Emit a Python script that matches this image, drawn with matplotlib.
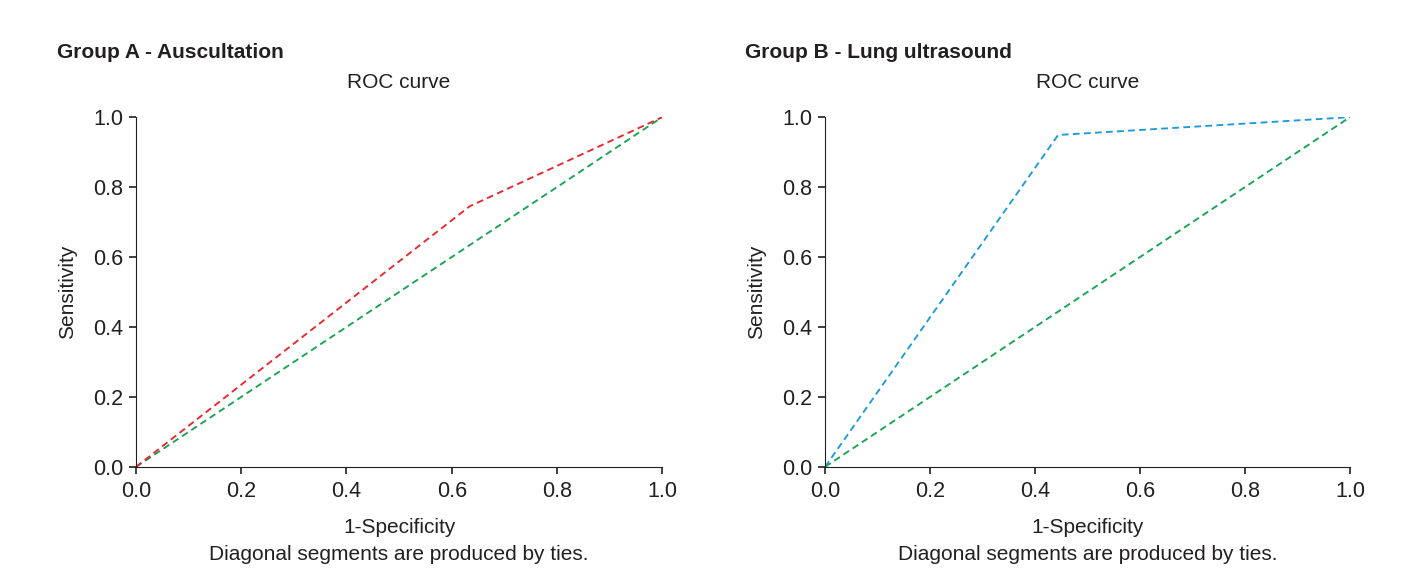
import matplotlib.pyplot as plt

plt.rcParams['font.family'] = ['Liberation Sans', 'DejaVu Sans']

# ROC points (1-specificity, sensitivity)
fpr_a = [0.0, 0.634, 1.0]
tpr_a = [0.0, 0.745, 1.0]
fpr_b = [0.0, 0.444, 1.0]
tpr_b = [0.0, 0.949, 1.0]
ref_line = [0.0, 1.0]
ticks = [0.0, 0.2, 0.4, 0.6, 0.8, 1.0]

titles = ["Group A - Auscultation", "Group B - Lung ultrasound"]
colors = ["#e8262d", "#1b9bd7"]
ref_color = "#16a450"
ink = '#231f20'

fig = plt.figure(figsize=(14.21, 5.8), dpi=100)
ax_a = fig.add_axes([0.0957, 0.195, 0.3703, 0.603])
ax_b = fig.add_axes([0.5806, 0.195, 0.3694, 0.603])

for ax, fx, fy, title, col, tx in [(ax_a, fpr_a, tpr_a, titles[0], colors[0], 0.040),
                                   (ax_b, fpr_b, tpr_b, titles[1], colors[1], 0.524)]:
    ax.plot(ref_line, ref_line, color=ref_color, lw=1.35, dashes=(3.6, 2.3))
    ax.plot(fx, fy, color=col, lw=1.35, dashes=(3.6, 2.3))
    ax.set_xlim(0, 1)
    ax.set_ylim(0, 1)
    ax.set_xticks(ticks)
    ax.set_yticks(ticks)
    ax.set_xticklabels([f"{t:.1f}" for t in ticks])
    ax.set_yticklabels([f"{t:.1f}" for t in ticks])
    ax.spines['top'].set_visible(False)
    ax.spines['right'].set_visible(False)
    ax.spines['left'].set_color(ink)
    ax.spines['bottom'].set_color(ink)
    ax.tick_params(direction='out', length=5, width=1.2, colors=ink,
                   labelsize=15.5)
    ax.tick_params(axis='x', pad=5.5)
    ax.tick_params(axis='y', pad=4)
    ax.set_xlabel("1-Specificity\nDiagonal segments are produced by ties.",
                  fontsize=15, color=ink, labelpad=11, linespacing=1.55)
    ax.set_ylabel("Sensitivity", fontsize=15, color=ink, labelpad=12)
    ax.set_title("ROC curve", fontsize=15, color=ink, pad=21)
    fig.text(tx, 0.91, title, fontsize=15, fontweight='bold', color=ink,
             ha='left', va='center')

fig.savefig("out.png", dpi=100)
